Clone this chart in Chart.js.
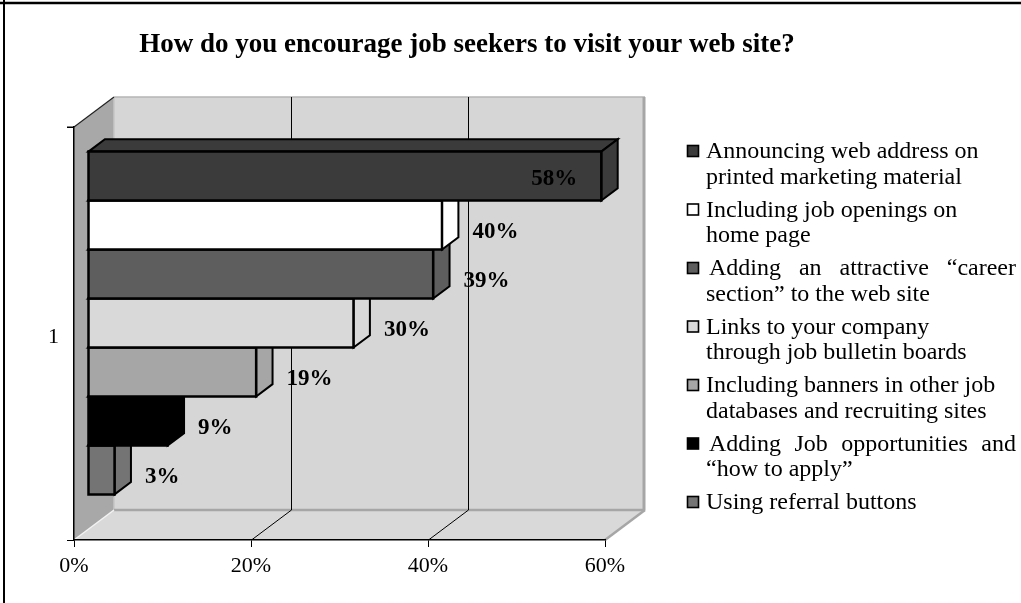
<!DOCTYPE html>
<html>
<head>
<meta charset="utf-8">
<title>Job seekers survey</title>
<script src="https://cdn.jsdelivr.net/npm/chart.js@4.4.1/dist/chart.umd.min.js"></script>
<style>
  html, body { margin: 0; padding: 0; background: #fff; }
</style>
</head>
<body>
<canvas id="jobChart" width="1021" height="603"></canvas>
<script>
// Survey answers, one bar per answer, all in the single category "1"
const categories = ['1'];
const seriesNames = [
    'Announcing web address on printed marketing material',
    'Including job openings on home page',
    'Adding an attractive \u201ccareer section\u201d to the web site',
    'Links to your company through job bulletin boards',
    'Including banners in other job databases and recruiting sites',
    'Adding Job opportunities and \u201chow to apply\u201d',
    'Using referral buttons'
];
const seriesValues = [58, 40, 39, 30, 19, 9, 3];
const xTicks = [0, 20, 40, 60];
const chartTitle = 'How do you encourage job seekers to visit your web site?';

// legend wording split the way it wraps beside the chart
const legendLines = [
    ['Announcing web address on', 'printed marketing material'],
    ['Including job openings on', 'home page'],
    ['Adding an attractive \u201ccareer', 'section\u201d to the web site'],
    ['Links to your company', 'through job bulletin boards'],
    ['Including banners in other job', 'databases and recruiting sites'],
    ['Adding Job opportunities and', '\u201chow to apply\u201d'],
    ['Using referral buttons']
];
const justifyFirst = [false, false, true, false, false, true, false];

const barColors = ['#3b3b3b', '#ffffff', '#5e5e5e', '#d9d9d9', '#a6a6a6', '#000000', '#747474'];

const SERIF = '"Liberation Serif", "Times New Roman", serif';
const DEPTH = { x: 40, y: -30 };   // floor depth of the 3d box
const BAR_FRONT = 0.35, BAR_BACK = 0.76;

Chart.defaults.font.family = SERIF;
Chart.defaults.color = '#000';

function poly(ctx, pts, fill, stroke, lw) {
    ctx.beginPath();
    ctx.moveTo(pts[0][0], pts[0][1]);
    for (let i = 1; i < pts.length; i++) ctx.lineTo(pts[i][0], pts[i][1]);
    ctx.closePath();
    if (fill) { ctx.fillStyle = fill; ctx.fill(); }
    if (stroke) { ctx.strokeStyle = stroke; ctx.lineWidth = lw || 1; ctx.stroke(); }
}

function line(ctx, x1, y1, x2, y2, color, lw) {
    ctx.beginPath();
    ctx.moveTo(x1, y1);
    ctx.lineTo(x2, y2);
    ctx.strokeStyle = color;
    ctx.lineWidth = lw;
    ctx.stroke();
}

const box3d = {
    id: 'box3d',
    beforeDraw(chart) {
        const ctx = chart.ctx;
        const { left, right, top, bottom } = chart.chartArea;
        const dx = DEPTH.x, dy = DEPTH.y;
        ctx.save();
        ctx.fillStyle = '#fff';
        ctx.fillRect(0, 0, chart.width, chart.height);

        // walls and floor
        poly(ctx, [[left, top], [left + dx, top + dy], [left + dx, bottom + dy], [left, bottom]], '#a8a8a8');
        poly(ctx, [[left, bottom], [right, bottom], [right + dx, bottom + dy], [left + dx, bottom + dy]], '#d9d9d9');
        ctx.fillStyle = '#d6d6d6';
        ctx.fillRect(left + dx, top + dy, right - left, bottom - top);

        line(ctx, left + dx, top + dy, right + dx, top + dy, '#b4b4b4', 1.5);
        line(ctx, left + dx, top + dy, left + dx, bottom + dy, '#c6c6c6', 1.5);
        line(ctx, right + dx - 1, top + dy, right + dx - 1, bottom + dy, '#a6a6a6', 3);
        line(ctx, left + dx, bottom + dy, right + dx, bottom + dy, '#a6a6a6', 2.5);
        line(ctx, right, bottom, right + dx, bottom + dy, '#a6a6a6', 2.5);
        line(ctx, left, bottom, left + dx, bottom + dy, '#f2f2f2', 1.5);
        line(ctx, left - 7, top, left, top, '#000', 1);
        line(ctx, left, top, left + dx, top + dy, '#222', 1.2);

        // gridlines on the back wall and their traces across the floor
        const xs = chart.scales.x;
        xTicks.slice(1, -1).forEach(v => {
            const x = Math.round(xs.getPixelForValue(v)) + 0.5;
            line(ctx, x + dx, top + dy, x + dx, bottom + dy, '#000', 1);
            line(ctx, x, bottom, x + dx, bottom + dy, '#000', 1);
        });
        ctx.restore();
    },
    beforeDatasetDraw() {
        return false;   // bars are drawn as blocks below
    },
    afterDatasetsDraw(chart) {
        const ctx = chart.ctx;
        const dx = DEPTH.x, dy = DEPTH.y;
        const fx = BAR_FRONT * dx, fy = BAR_FRONT * dy;
        const bx = (BAR_BACK - BAR_FRONT) * dx, by = (BAR_BACK - BAR_FRONT) * dy;
        const wallRight = chart.chartArea.right + dx;
        const boxes = [];
        ctx.save();
        ctx.lineJoin = 'miter';
        for (let i = chart.data.datasets.length - 1; i >= 0; i--) {
            const el = chart.getDatasetMeta(i).data[0];
            const p = el.getProps(['x', 'y', 'base', 'height'], true);
            const x0 = p.base + fx, x1 = p.x + fx;
            const y0 = p.y - p.height / 2 + fy, y1 = p.y + p.height / 2 + fy;
            const c = chart.data.datasets[i].backgroundColor;
            poly(ctx, [[x0, y0], [x1, y0], [x1 + bx, y0 + by], [x0 + bx, y0 + by]], c, '#000', 2);
            poly(ctx, [[x1, y0], [x1 + bx, y0 + by], [x1 + bx, y1 + by], [x1, y1]], c, '#000', 2);
            poly(ctx, [[x0, y0], [x1, y0], [x1, y1], [x0, y1]], c, '#000', 2.5);
            boxes[i] = { x1, y0, y1 };
        }

        // value labels
        ctx.font = 'bold 23px ' + SERIF;
        ctx.fillStyle = '#000';
        ctx.textBaseline = 'middle';
        boxes.forEach((b, i) => {
            const txt = chart.data.datasets[i].data[0] + '%';
            const w = ctx.measureText(txt).width;
            const lx = b.x1 + bx + 14;
            const cy = (b.y0 + b.y1) / 2;
            if (lx + w > wallRight) {
                ctx.textAlign = 'right';
                ctx.fillText(txt, b.x1 - 24, cy + 3);
            } else {
                ctx.textAlign = 'left';
                ctx.fillText(txt, lx, cy + 7);
            }
        });
        ctx.restore();
    },
    afterDraw(chart) {
        const ctx = chart.ctx;
        ctx.save();
        // title
        ctx.font = 'bold 27px ' + SERIF;
        ctx.fillStyle = '#000';
        ctx.textAlign = 'center';
        ctx.textBaseline = 'middle';
        ctx.fillText(chartTitle, 467, 45);

        // legend
        ctx.font = '24px ' + SERIF;
        ctx.textAlign = 'left';
        const textX = 706, rightX = 1016, lh = 25.5;
        let y = 152;
        legendLines.forEach((lines, i) => {
            ctx.fillStyle = barColors[i];
            ctx.fillRect(687.5, y - 6.5, 11, 11);
            ctx.strokeStyle = '#000';
            ctx.lineWidth = 1.6;
            ctx.strokeRect(687.5, y - 6.5, 11, 11);
            ctx.fillStyle = '#000';
            lines.forEach((t, k) => {
                const ty = y + k * lh;
                if (k === 0 && justifyFirst[i] && lines.length > 1) {
                    const words = t.split(' ');
                    const total = words.reduce((s, wd) => s + ctx.measureText(wd).width, 0);
                    const gap = (rightX - textX - 3 - total) / (words.length - 1);
                    let wx = textX + 3;
                    words.forEach(wd => {
                        ctx.fillText(wd, wx, ty);
                        wx += ctx.measureText(wd).width + gap;
                    });
                } else {
                    ctx.fillText(t, textX, ty);
                }
            });
            y += lines.length * lh + 7.5;
        });

        // outer frame
        line(ctx, 0, 3, chart.width, 3, '#000', 2.5);
        line(ctx, 4, 0, 4, chart.height, '#000', 2);
        ctx.restore();
    }
};

new Chart(document.getElementById('jobChart'), {
    type: 'bar',
    data: {
        labels: categories,
        datasets: seriesNames.map((name, i) => ({
            label: name,
            data: [seriesValues[i]],
            backgroundColor: barColors[i]
        }))
    },
    options: {
        indexAxis: 'y',
        responsive: false,
        animation: false,
        devicePixelRatio: 1,
        categoryPercentage: 0.83,
        barPercentage: 1.0,
        layout: { padding: { left: 0, right: 416, top: 127, bottom: 0 } },
        plugins: {
            legend: { display: false },
            tooltip: { enabled: false }
        },
        scales: {
            x: {
                min: xTicks[0],
                max: xTicks[xTicks.length - 1],
                afterFit: s => { s.height = 63; },
                afterBuildTicks: s => { s.ticks = xTicks.map(v => ({ value: v })); },
                grid: { drawOnChartArea: false, tickLength: 7, color: '#000' },
                border: { color: '#000', width: 1.5 },
                ticks: {
                    padding: 6,
                    font: { size: 22 },
                    color: '#000',
                    maxRotation: 0,
                    callback: v => v + '%'
                }
            },
            y: {
                afterFit: s => { s.width = 74; },
                grid: { drawOnChartArea: false, tickLength: 7, color: '#000' },
                border: { color: '#000', width: 1.5 },
                ticks: { padding: 8, labelOffset: 4, font: { size: 22 }, color: '#000' }
            }
        }
    },
    plugins: [box3d]
});
</script>
</body>
</html>
